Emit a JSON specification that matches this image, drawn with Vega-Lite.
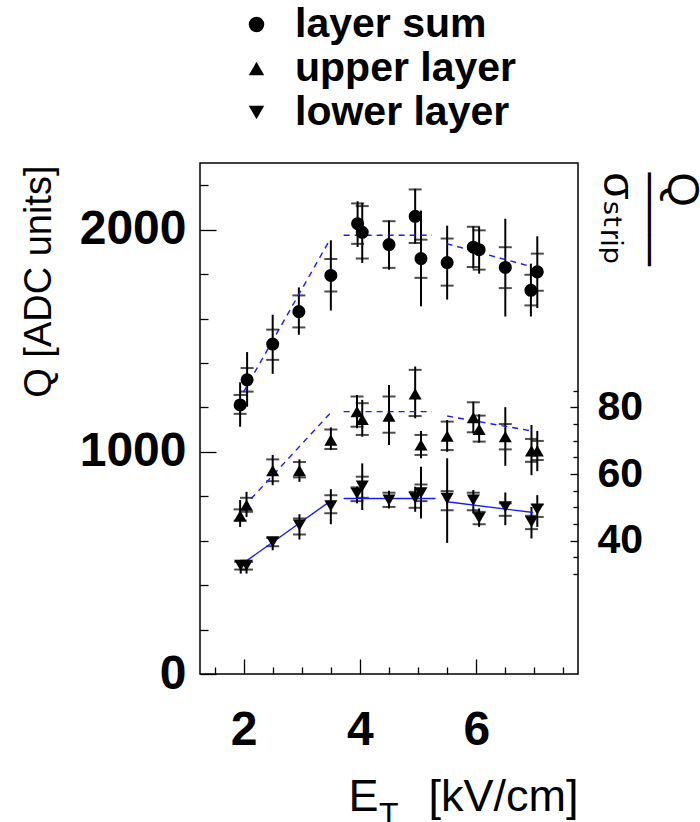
{
  "$schema": "https://vega.github.io/schema/vega-lite/v6.json",
  "width": 378,
  "height": 511,
  "autosize": {"type": "none"},
  "padding": {"left": 200, "top": 163, "right": 122, "bottom": 148},
  "config": {
    "font": "Liberation Sans, Arial, DejaVu Sans, sans-serif",
    "view": {"stroke": "#000", "strokeWidth": 1.5},
    "axis": {"grid": false, "domain": false, "tickColor": "#000", "labelColor": "#000", "titleColor": "#000", "tickWidth": 1.3, "labelOverlap": false}
  },
  "title": {"text": "T", "orient": "bottom", "anchor": "start", "frame": "group", "fontSize": 32, "fontWeight": "normal", "color": "#000", "baseline": "top", "offset": 0, "dx": 179, "dy": -19},
  "datasets": {
    "pts": [
      {"s": "layer sum", "x": 1.94, "q": 1211, "lo": 1113, "hi": 1313, "ilo": 1171, "ihi": 1256},
      {"s": "layer sum", "x": 2.06, "q": 1324, "lo": 1203, "hi": 1449, "ilo": 1271, "ihi": 1377},
      {"s": "layer sum", "x": 2.5, "q": 1485, "lo": 1351, "hi": 1617, "ilo": 1414, "ihi": 1550},
      {"s": "layer sum", "x": 2.95, "q": 1631, "lo": 1527, "hi": 1740, "ilo": 1560, "ihi": 1704},
      {"s": "layer sum", "x": 3.5, "q": 1794, "lo": 1636, "hi": 1952, "ilo": 1722, "ihi": 1868},
      {"s": "layer sum", "x": 3.96, "q": 2027, "lo": 1922, "hi": 2128, "ilo": 1936, "ihi": 2118},
      {"s": "layer sum", "x": 4.04, "q": 1988, "lo": 1850, "hi": 2121, "ilo": 1870, "ihi": 2106},
      {"s": "layer sum", "x": 4.5, "q": 1933, "lo": 1820, "hi": 2041, "ilo": 1828, "ihi": 2038},
      {"s": "layer sum", "x": 4.95, "q": 2060, "lo": 1937, "hi": 2184, "ilo": 1940, "ihi": 2181},
      {"s": "layer sum", "x": 5.05, "q": 1870, "lo": 1655, "hi": 2086, "ilo": 1783, "ihi": 1955},
      {"s": "layer sum", "x": 5.5, "q": 1852, "lo": 1685, "hi": 2018, "ilo": 1748, "ihi": 1960},
      {"s": "layer sum", "x": 5.95, "q": 1921, "lo": 1825, "hi": 2015, "ilo": 1832, "ihi": 2013},
      {"s": "layer sum", "x": 6.05, "q": 1910, "lo": 1802, "hi": 2013, "ilo": 1820, "ihi": 1997},
      {"s": "layer sum", "x": 6.5, "q": 1830, "lo": 1609, "hi": 2049, "ilo": 1737, "ihi": 1921},
      {"s": "layer sum", "x": 6.94, "q": 1727, "lo": 1609, "hi": 1847, "ilo": 1659, "ihi": 1797},
      {"s": "layer sum", "x": 7.05, "q": 1810, "lo": 1647, "hi": 1970, "ilo": 1725, "ihi": 1892},
      {"s": "upper layer", "x": 1.94, "q": 712, "lo": 662, "hi": 783, "ilo": 690, "ihi": 741},
      {"s": "upper layer", "x": 2.05, "q": 760, "lo": 707, "hi": 820, "ilo": 730, "ihi": 793},
      {"s": "upper layer", "x": 2.5, "q": 915, "lo": 850, "hi": 986, "ilo": 868, "ihi": 966},
      {"s": "upper layer", "x": 2.96, "q": 915, "lo": 865, "hi": 966, "ilo": 885, "ihi": 954},
      {"s": "upper layer", "x": 3.5, "q": 1053, "lo": 1008, "hi": 1110, "ilo": 1013, "ihi": 1101},
      {"s": "upper layer", "x": 3.95, "q": 1181, "lo": 1106, "hi": 1256, "ilo": 1113, "ihi": 1249},
      {"s": "upper layer", "x": 4.04, "q": 1146, "lo": 1068, "hi": 1234, "ilo": 1076, "ihi": 1219},
      {"s": "upper layer", "x": 4.5, "q": 1161, "lo": 1031, "hi": 1301, "ilo": 1086, "ihi": 1249},
      {"s": "upper layer", "x": 4.95, "q": 1261, "lo": 1151, "hi": 1384, "ilo": 1161, "ihi": 1369},
      {"s": "upper layer", "x": 5.05, "q": 1031, "lo": 971, "hi": 1094, "ilo": 986, "ihi": 1076},
      {"s": "upper layer", "x": 5.5, "q": 1071, "lo": 1000, "hi": 1143, "ilo": 1008, "ihi": 1136},
      {"s": "upper layer", "x": 5.95, "q": 1154, "lo": 1083, "hi": 1226, "ilo": 1088, "ihi": 1223},
      {"s": "upper layer", "x": 6.05, "q": 1101, "lo": 1041, "hi": 1169, "ilo": 1046, "ihi": 1163},
      {"s": "upper layer", "x": 6.5, "q": 1068, "lo": 937, "hi": 1201, "ilo": 1011, "ihi": 1125},
      {"s": "upper layer", "x": 6.95, "q": 1004, "lo": 895, "hi": 1121, "ilo": 955, "ihi": 1058},
      {"s": "upper layer", "x": 7.05, "q": 1004, "lo": 913, "hi": 1094, "ilo": 963, "ihi": 1049},
      {"s": "lower layer", "x": 1.95, "q": 489, "lo": 452, "hi": 512, "ilo": 470, "ihi": 505},
      {"s": "lower layer", "x": 2.05, "q": 489, "lo": 452, "hi": 512, "ilo": 470, "ihi": 505},
      {"s": "lower layer", "x": 2.5, "q": 595, "lo": 557, "hi": 617, "ilo": 575, "ihi": 612},
      {"s": "lower layer", "x": 2.96, "q": 670, "lo": 605, "hi": 719, "ilo": 628, "ihi": 700},
      {"s": "lower layer", "x": 3.5, "q": 757, "lo": 674, "hi": 832, "ilo": 723, "ihi": 805},
      {"s": "lower layer", "x": 3.95, "q": 813, "lo": 768, "hi": 843, "ilo": 778, "ihi": 840},
      {"s": "lower layer", "x": 4.04, "q": 846, "lo": 738, "hi": 948, "ilo": 793, "ihi": 888},
      {"s": "lower layer", "x": 4.5, "q": 783, "lo": 745, "hi": 825, "ilo": 752, "ihi": 816},
      {"s": "lower layer", "x": 4.95, "q": 793, "lo": 730, "hi": 843, "ilo": 748, "ihi": 820},
      {"s": "lower layer", "x": 5.05, "q": 815, "lo": 700, "hi": 933, "ilo": 778, "ihi": 853},
      {"s": "lower layer", "x": 5.5, "q": 790, "lo": 590, "hi": 971, "ilo": 737, "ihi": 823},
      {"s": "lower layer", "x": 5.95, "q": 783, "lo": 723, "hi": 828, "ilo": 737, "ihi": 816},
      {"s": "lower layer", "x": 6.05, "q": 703, "lo": 662, "hi": 745, "ilo": 674, "ihi": 730},
      {"s": "lower layer", "x": 6.5, "q": 752, "lo": 670, "hi": 817, "ilo": 712, "ihi": 768},
      {"s": "lower layer", "x": 6.95, "q": 685, "lo": 610, "hi": 752, "ilo": 652, "ihi": 712},
      {"s": "lower layer", "x": 7.05, "q": 741, "lo": 662, "hi": 805, "ilo": 707, "ihi": 763}
    ],
    "fits": [
      {"s": "layer sum", "seg": "a", "x": 2.0, "q": 1270},
      {"s": "layer sum", "seg": "a", "x": 3.49, "q": 1958},
      {"s": "layer sum", "seg": "b", "x": 3.72, "q": 1975},
      {"s": "layer sum", "seg": "b", "x": 5.24, "q": 1975},
      {"s": "layer sum", "seg": "c", "x": 5.49, "q": 1937},
      {"s": "layer sum", "seg": "c", "x": 6.93, "q": 1835},
      {"s": "upper layer", "seg": "a", "x": 2.0, "q": 752},
      {"s": "upper layer", "seg": "a", "x": 3.49, "q": 1174},
      {"s": "upper layer", "seg": "b", "x": 3.72, "q": 1181},
      {"s": "upper layer", "seg": "b", "x": 5.24, "q": 1181},
      {"s": "upper layer", "seg": "c", "x": 5.5, "q": 1161},
      {"s": "upper layer", "seg": "c", "x": 6.93, "q": 1095},
      {"s": "lower layer", "seg": "a", "x": 2.0, "q": 500},
      {"s": "lower layer", "seg": "a", "x": 3.49, "q": 778},
      {"s": "lower layer", "seg": "b", "x": 3.72, "q": 790},
      {"s": "lower layer", "seg": "b", "x": 5.3, "q": 790},
      {"s": "lower layer", "seg": "c", "x": 5.5, "q": 775},
      {"s": "lower layer", "seg": "c", "x": 6.98, "q": 727}
    ],
    "rax": [{"r": 40}, {"r": 60}, {"r": 80}]
  },
  "layer": [
    {
      "data": {"name": "pts"},
      "layer": [
        {
          "mark": {"type": "rule", "color": "#000", "strokeWidth": 2},
          "encoding": {
            "x": {"field": "x", "type": "quantitative", "title": "E\u00a0\u00a0\u00a0\u00a0[kV/cm]",
              "scale": {"domain": [1.25, 7.75], "nice": false, "zero": false},
              "axis": {
                "values": [1.5, 2, 2.5, 3, 3.5, 4, 4.5, 5, 5.5, 6, 6.5, 7, 7.5],
                "tickCount": 40,
                "labelExpr": "(datum.value === 2 || datum.value === 4 || datum.value === 6) ? '' + datum.value : ''",
                "labelOverlap": false,
                "tickSize": {"condition": {"test": "datum.value === 2 || datum.value === 4 || datum.value === 6", "value": -15}, "value": -7},
                "labelFontSize": 48, "labelFontWeight": "bold", "labelPadding": 47, "labelFlush": false,
                "titleFontSize": 45, "titleFontWeight": "normal", "titleX": 378, "titleY": 136,
                "titleAlign": "right", "titleBaseline": "alphabetic", "titleAngle": 0
              }
            },
            "y": {"field": "lo", "type": "quantitative", "title": "Q [ADC units]",
              "scale": {"domain": [0, 2300], "nice": false},
              "axis": {
                "values": [0, 200, 400, 600, 800, 1000, 1200, 1400, 1600, 1800, 2000, 2200],
                "tickCount": 40,
                "labelExpr": "datum.value % 1000 === 0 ? '' + datum.value : ''",
                "labelOverlap": false,
                "tickSize": {"condition": {"test": "datum.value % 1000 === 0", "value": -16}, "value": -8},
                "labelFontSize": 48, "labelFontWeight": "bold", "labelPadding": 30, "labelFlush": false,
                "titleFontSize": 38, "titleFontWeight": "normal", "titleAngle": -90,
                "titleX": -150, "titleY": 2, "titleAlign": "right", "titleBaseline": "alphabetic"
              }
            },
            "y2": {"field": "hi"}
          }
        },
        {
          "mark": {"type": "tick", "orient": "horizontal", "color": "#000", "size": 13, "thickness": 2},
          "encoding": {
            "x": {"field": "x", "type": "quantitative", "title": "E\u00a0\u00a0\u00a0\u00a0[kV/cm]", "scale": {"domain": [1.25, 7.75], "nice": false, "zero": false}},
            "y": {"field": "ilo", "type": "quantitative", "title": "Q [ADC units]", "scale": {"domain": [0, 2300], "nice": false}}
          }
        },
        {
          "mark": {"type": "tick", "orient": "horizontal", "color": "#000", "size": 13, "thickness": 2},
          "encoding": {
            "x": {"field": "x", "type": "quantitative", "title": "E\u00a0\u00a0\u00a0\u00a0[kV/cm]", "scale": {"domain": [1.25, 7.75], "nice": false, "zero": false}},
            "y": {"field": "ihi", "type": "quantitative", "title": "Q [ADC units]", "scale": {"domain": [0, 2300], "nice": false}}
          }
        },
        {
          "data": {"name": "fits"},
          "transform": [{"filter": "datum.s !== 'lower layer'"}],
          "mark": {"type": "line", "color": "#1a1aff", "strokeWidth": 1.4, "strokeDash": [6, 5]},
          "encoding": {
            "x": {"field": "x", "type": "quantitative", "title": "E\u00a0\u00a0\u00a0\u00a0[kV/cm]", "scale": {"domain": [1.25, 7.75], "nice": false, "zero": false}},
            "y": {"field": "q", "type": "quantitative", "title": "Q [ADC units]", "scale": {"domain": [0, 2300], "nice": false}},
            "detail": [{"field": "s"}, {"field": "seg"}]
          }
        },
        {
          "data": {"name": "fits"},
          "transform": [{"filter": "datum.s === 'lower layer'"}],
          "mark": {"type": "line", "color": "#1a1aff", "strokeWidth": 1.4},
          "encoding": {
            "x": {"field": "x", "type": "quantitative", "title": "E\u00a0\u00a0\u00a0\u00a0[kV/cm]", "scale": {"domain": [1.25, 7.75], "nice": false, "zero": false}},
            "y": {"field": "q", "type": "quantitative", "title": "Q [ADC units]", "scale": {"domain": [0, 2300], "nice": false}},
            "detail": {"field": "seg"}
          }
        },
        {
          "mark": {"type": "point", "filled": true, "color": "#000", "size": 170, "opacity": 1},
          "encoding": {
            "x": {"field": "x", "type": "quantitative", "title": "E\u00a0\u00a0\u00a0\u00a0[kV/cm]", "scale": {"domain": [1.25, 7.75], "nice": false, "zero": false}},
            "y": {"field": "q", "type": "quantitative", "title": "Q [ADC units]", "scale": {"domain": [0, 2300], "nice": false}},
            "shape": {"field": "s", "type": "nominal",
              "scale": {"domain": ["layer sum", "upper layer", "lower layer"], "range": ["circle", "triangle-up", "triangle-down"]},
              "legend": {"title": null, "orient": "none", "legendX": 36, "legendY": -159, "padding": 0,
                "labelFontSize": 41, "labelFontWeight": "bold", "labelColor": "#000", "labelOffset": 18,
                "symbolSize": 240, "symbolFillColor": "#000", "symbolStrokeColor": "#000", "symbolStrokeWidth": 0,
                "rowPadding": 2, "labelLimit": 400}
            }
          }
        }
      ]
    },
    {
      "data": {"name": "rax"},
      "mark": {"type": "rule", "opacity": 0},
      "encoding": {
        "y": {"field": "r", "type": "quantitative", "title": ["Q", "───", "σₛₜᵣᵢₚ"],
          "scale": {"domain": [0, 153.333], "nice": false},
          "axis": {
            "orient": "right",
            "values": [30, 35, 40, 45, 50, 55, 60, 65, 70, 75, 80, 85],
            "tickCount": 40,
            "labelExpr": "datum.value % 20 === 0 ? '' + datum.value : ''",
            "labelOverlap": false,
            "tickSize": {"condition": {"test": "datum.value % 20 === 0", "value": -8}, "value": -5},
            "labelFontSize": 41, "labelFontWeight": "bold", "labelPadding": 27, "labelFlush": false,
            "titleFontSize": 44, "titleFontWeight": "normal", "titleAngle": 90, "titleLineHeight": 32,
            "titleX": 124, "titleY": 9, "titleAlign": "left", "titleBaseline": "top"
          }
        }
      }
    }
  ],
  "resolve": {"scale": {"y": "independent"}}
}
